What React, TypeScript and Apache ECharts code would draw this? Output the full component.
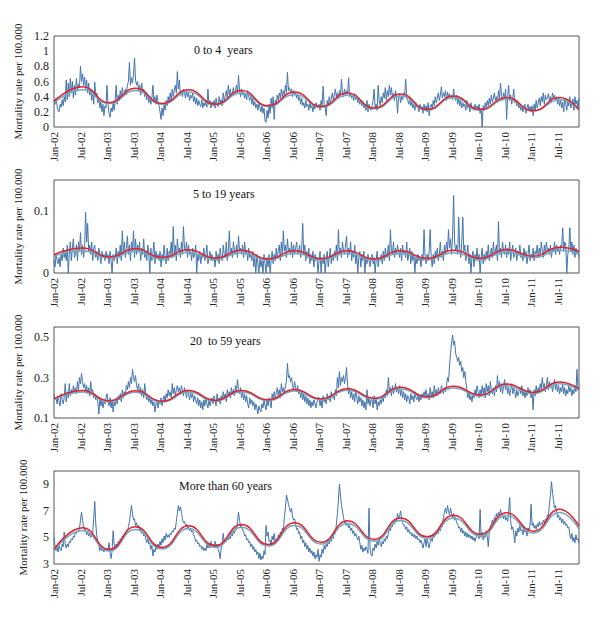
import { useEffect, useRef } from 'react';
import * as echarts from 'echarts';

const tickLabels = [
  'Jan-02', 'Jul-02', 'Jan-03', 'Jul-03', 'Jan-04', 'Jul-04', 'Jan-05', 'Jul-05', 'Jan-06', 'Jul-06',
  'Jan-07', 'Jul-07', 'Jan-08', 'Jul-08', 'Jan-09', 'Jul-09', 'Jan-10', 'Jul-10', 'Jan-11', 'Jul-11',
];
const weeksPerLabel = 26;

// Week positions of the seasonal model points (troughs ~ Jan, peaks ~ Jul)
const fitWeeks = [0, 28, 54, 80, 106, 132, 158, 184, 210, 236, 262, 288, 314, 340, 366, 392, 418, 444, 470, 496, 515];

// ---------- 0 to 4 years ----------
const p1Weekly = [
  0.35,0.30,0.38,0.28,0.22,0.20,0.30,0.26,0.36,0.28,0.40,0.33,0.62,0.36,0.58,0.40,0.64,0.45,0.60,0.38,0.55,0.42,0.64,0.48,0.56,0.52,0.80,0.60,0.70,0.55,0.66,0.50,0.62,0.45,0.58,0.42,0.50,0.35,0.48,0.30,0.59,0.40,0.45,0.32,0.38,0.25,0.33,0.20,0.30,0.15,0.28,0.25,
  0.55,0.30,0.18,0.13,0.25,0.20,0.32,0.22,0.35,0.55,0.30,0.42,0.35,0.48,0.38,0.52,0.40,0.45,0.50,0.42,0.55,0.60,0.85,0.55,0.65,0.58,0.70,0.91,0.62,0.55,0.60,0.48,0.55,0.42,0.58,0.45,0.50,0.40,0.46,0.36,0.42,0.32,0.40,0.30,0.38,0.55,0.35,0.40,0.30,0.42,0.33,0.28,
  0.20,0.10,0.25,0.15,0.30,0.22,0.35,0.28,0.40,0.32,0.45,0.35,0.50,0.40,0.48,0.55,0.45,0.73,0.50,0.62,0.42,0.48,0.40,0.50,0.45,0.38,0.48,0.40,0.45,0.35,0.42,0.38,0.45,0.33,0.40,0.30,0.38,0.28,0.35,0.30,0.27,0.36,0.25,0.32,0.28,0.34,0.26,0.50,0.30,0.35,0.25,0.33,
  0.28,0.35,0.25,0.38,0.30,0.27,0.40,0.32,0.36,0.28,0.45,0.35,0.40,0.48,0.38,0.55,0.42,0.50,0.40,0.45,0.52,0.42,0.48,0.55,0.45,0.68,0.48,0.40,0.50,0.42,0.46,0.38,0.44,0.36,0.48,0.40,0.35,0.42,0.30,0.38,0.28,0.33,0.25,0.30,0.22,0.32,0.26,0.20,0.28,0.18,0.25,0.08,
  0.06,0.22,0.12,0.30,0.18,0.38,0.25,0.40,0.10,0.35,0.30,0.42,0.35,0.45,0.38,0.50,0.40,0.48,0.42,0.55,0.45,0.72,0.48,0.52,0.45,0.50,0.40,0.48,0.42,0.46,0.38,0.44,0.35,0.40,0.30,0.38,0.28,0.32,0.25,0.35,0.27,0.30,0.22,0.32,0.25,0.28,0.20,0.30,0.24,0.32,0.28,0.25,
  0.30,0.22,0.35,0.28,0.54,0.30,0.25,0.15,0.35,0.28,0.40,0.32,0.38,0.45,0.35,0.42,0.50,0.40,0.45,0.38,0.48,0.42,0.63,0.45,0.40,0.50,0.42,0.48,0.44,0.65,0.40,0.45,0.38,0.42,0.35,0.44,0.36,0.40,0.32,0.38,0.30,0.35,0.28,0.33,0.25,0.30,0.22,0.35,0.20,0.30,0.25,0.22,
  0.28,0.35,0.50,0.25,0.30,0.22,0.55,0.35,0.28,0.40,0.32,0.45,0.38,0.52,0.35,0.48,0.40,0.55,0.42,0.52,0.38,0.45,0.35,0.48,0.40,0.18,0.38,0.44,0.32,0.40,0.36,0.45,0.42,0.63,0.38,0.35,0.30,0.38,0.28,0.33,0.25,0.30,0.22,0.32,0.26,0.28,0.20,0.30,0.24,0.27,0.18,0.30,
  0.22,0.28,0.20,0.32,0.15,0.26,0.30,0.25,0.35,0.28,0.40,0.32,0.38,0.45,0.35,0.42,0.53,0.38,0.45,0.40,0.48,0.35,0.46,0.40,0.44,0.38,0.42,0.36,0.50,0.40,0.35,0.42,0.30,0.38,0.28,0.35,0.25,0.32,0.27,0.30,0.22,0.35,0.25,0.28,0.20,0.32,0.24,0.27,0.22,0.30,0.25,0.28,
  0.22,0.30,0.18,0.25,0.00,0.28,0.22,0.32,0.26,0.35,0.28,0.38,0.30,0.42,0.33,0.38,0.45,0.35,0.40,0.32,0.48,0.38,0.58,0.40,0.35,0.45,0.38,0.50,0.10,0.40,0.55,0.35,0.42,0.30,0.38,0.50,0.32,0.35,0.28,0.32,0.25,0.30,0.22,0.28,0.20,0.26,0.30,0.18,0.25,0.30,0.22,0.27,
  0.20,0.28,0.15,0.30,0.22,0.35,0.25,0.32,0.38,0.28,0.40,0.33,0.45,0.30,0.42,0.36,0.38,0.44,0.35,0.40,0.32,0.45,0.38,0.42,0.35,0.40,0.30,0.38,0.28,0.35,0.25,0.33,0.20,0.38,0.30,0.22,0.35,0.28,0.40,0.25,0.32,0.37,0.22,0.40,0.30,0.35,0.25,0.38,
];
const p1Model = [0.34, 0.53, 0.32, 0.51, 0.31, 0.49, 0.30, 0.48, 0.28, 0.46, 0.27, 0.45, 0.25, 0.435, 0.23, 0.41, 0.23, 0.39, 0.215, 0.39, 0.23];
const p1Fit = [0.32, 0.49, 0.31, 0.48, 0.30, 0.46, 0.29, 0.45, 0.27, 0.43, 0.26, 0.42, 0.24, 0.41, 0.22, 0.39, 0.22, 0.37, 0.21, 0.36, 0.22];
const p1YLabels = [0, 0.2, 0.4, 0.6, 0.8, 1, 1.2];

// ---------- 5 to 19 years ----------
const p2Weekly = [
  0.02,0.01,0.03,0.02,0.015,0.025,0.01,0.03,0.02,0.04,0.025,0.035,0.02,0.045,0.0,0.03,0.05,0.02,0.04,0.055,0.025,0.03,0.045,0.02,0.05,0.035,0.065,0.03,0.045,0.025,0.04,0.098,0.05,0.08,0.035,0.045,0.03,0.05,0.02,0.04,0.045,0.025,0.035,0.02,0.04,0.03,0.015,0.035,0.025,0.03,0.02,0.035,
  0.025,0.03,0.015,0.035,0.02,0.0,0.03,0.02,0.025,0.04,0.015,0.035,0.025,0.045,0.02,0.068,0.03,0.05,0.025,0.04,0.06,0.03,0.045,0.02,0.05,0.035,0.068,0.025,0.055,0.03,0.045,0.035,0.05,0.02,0.04,0.03,0.055,0.025,0.035,0.02,0.045,0.03,0.0,0.04,0.02,0.03,0.05,0.015,0.035,0.025,0.03,0.02,
  0.035,0.01,0.03,0.02,0.045,0.025,0.015,0.04,0.02,0.035,0.03,0.05,0.025,0.075,0.03,0.045,0.02,0.055,0.035,0.04,0.025,0.05,0.03,0.075,0.04,0.035,0.05,0.025,0.045,0.03,0.035,0.02,0.04,0.025,0.03,0.045,0.0,0.03,0.02,0.035,0.015,0.03,0.025,0.04,0.02,0.03,0.045,0.015,0.025,0.035,0.02,0.03,
  0.02,0.025,0.01,0.035,0.02,0.03,0.015,0.04,0.025,0.02,0.045,0.03,0.025,0.05,0.02,0.035,0.068,0.03,0.04,0.025,0.05,0.035,0.03,0.045,0.025,0.06,0.035,0.04,0.03,0.045,0.025,0.05,0.03,0.035,0.02,0.04,0.025,0.03,0.02,0.035,0.01,0.025,0.0,0.03,0.015,0.0,0.025,0.01,0.02,0.0,0.03,0.015,
  0.0,0.025,0.01,0.03,0.0,0.02,0.035,0.015,0.03,0.02,0.04,0.025,0.035,0.045,0.02,0.05,0.03,0.068,0.035,0.045,0.025,0.055,0.035,0.04,0.03,0.05,0.025,0.045,0.03,0.04,0.05,0.03,0.035,0.045,0.025,0.04,0.08,0.03,0.045,0.02,0.035,0.025,0.04,0.015,0.03,0.02,0.035,0.01,0.03,0.02,0.025,0.0,
  0.02,0.035,0.0,0.025,0.015,0.03,0.0,0.02,0.035,0.01,0.025,0.04,0.015,0.03,0.02,0.035,0.025,0.045,0.02,0.07,0.03,0.04,0.025,0.05,0.035,0.03,0.045,0.06,0.025,0.04,0.03,0.05,0.02,0.035,0.025,0.045,0.015,0.03,0.0,0.025,0.035,0.01,0.03,0.02,0.035,0.0,0.025,0.015,0.03,0.02,0.01,0.025,
  0.03,0.015,0.025,0.0,0.02,0.035,0.01,0.025,0.02,0.03,0.015,0.035,0.02,0.04,0.025,0.03,0.045,0.02,0.07,0.035,0.03,0.05,0.025,0.04,0.03,0.045,0.035,0.025,0.04,0.02,0.045,0.03,0.035,0.025,0.05,0.02,0.03,0.04,0.015,0.035,0.02,0.03,0.0,0.025,0.015,0.03,0.02,0.025,0.01,0.03,0.02,0.07,
  0.025,0.015,0.03,0.02,0.035,0.07,0.025,0.01,0.03,0.015,0.035,0.025,0.04,0.02,0.03,0.05,0.025,0.035,0.02,0.045,0.03,0.05,0.035,0.07,0.04,0.055,0.03,0.06,0.125,0.05,0.035,0.045,0.03,0.09,0.04,0.025,0.05,0.09,0.035,0.045,0.02,0.03,0.045,0.015,0.03,0.0,0.025,0.035,0.01,0.03,0.02,0.04,
  0.02,0.03,0.0,0.025,0.04,0.015,0.03,0.02,0.035,0.025,0.045,0.02,0.03,0.04,0.025,0.05,0.03,0.035,0.045,0.02,0.083,0.03,0.04,0.025,0.05,0.035,0.03,0.045,0.025,0.04,0.03,0.05,0.02,0.035,0.045,0.025,0.03,0.04,0.02,0.035,0.03,0.045,0.025,0.03,0.02,0.04,0.025,0.035,0.015,0.03,0.045,0.02,
  0.03,0.025,0.04,0.02,0.035,0.03,0.045,0.025,0.04,0.03,0.05,0.035,0.025,0.045,0.03,0.05,0.035,0.04,0.03,0.045,0.025,0.04,0.035,0.05,0.03,0.045,0.035,0.04,0.03,0.045,0.04,0.073,0.035,0.05,0.045,0.0,0.03,0.04,0.073,0.035,0.05,0.03,0.045,0.025,0.04,0.03,0.035,0.025,
];
const p2Model = [0.0295, 0.0405, 0.0257, 0.039, 0.025, 0.0375, 0.024, 0.0365, 0.0225, 0.036, 0.023, 0.036, 0.0225, 0.036, 0.0235, 0.0366, 0.0238, 0.038, 0.027, 0.0415, 0.035];
const p2Fit = [0.027, 0.036, 0.024, 0.035, 0.023, 0.0335, 0.022, 0.0325, 0.021, 0.032, 0.021, 0.032, 0.0205, 0.032, 0.0215, 0.0325, 0.0218, 0.0335, 0.0245, 0.0365, 0.031];
const p2YLabels = [0, 0.1];

// ---------- 20 to 59 years ----------
const p3Weekly = [
  0.22,0.19,0.20,0.17,0.21,0.18,0.16,0.22,0.19,0.17,0.20,0.27,0.18,0.23,0.20,0.27,0.21,0.24,0.22,0.26,0.23,0.25,0.22,0.28,0.24,0.30,0.27,0.32,0.28,0.25,0.27,0.23,0.26,0.22,0.25,0.21,0.28,0.23,0.24,0.20,0.22,0.19,0.21,0.18,0.12,0.20,0.16,0.19,0.15,0.18,0.17,0.20,
  0.22,0.18,0.16,0.20,0.15,0.19,0.13,0.18,0.16,0.20,0.17,0.21,0.19,0.22,0.18,0.24,0.20,0.23,0.21,0.26,0.24,0.28,0.25,0.30,0.27,0.34,0.30,0.28,0.31,0.26,0.24,0.27,0.22,0.25,0.21,0.24,0.20,0.27,0.22,0.19,0.21,0.18,0.20,0.17,0.19,0.16,0.18,0.13,0.17,0.19,0.15,0.18,
  0.17,0.20,0.16,0.19,0.21,0.18,0.22,0.20,0.24,0.21,0.23,0.20,0.27,0.22,0.25,0.21,0.24,0.26,0.23,0.25,0.22,0.26,0.24,0.21,0.25,0.23,0.20,0.24,0.22,0.19,0.23,0.20,0.22,0.18,0.21,0.19,0.17,0.20,0.16,0.19,0.15,0.18,0.14,0.19,0.16,0.20,0.17,0.15,0.19,0.16,0.18,0.20,
  0.17,0.21,0.19,0.16,0.22,0.18,0.20,0.17,0.21,0.19,0.23,0.20,0.22,0.18,0.24,0.21,0.23,0.20,0.25,0.22,0.24,0.21,0.26,0.23,0.29,0.24,0.22,0.25,0.20,0.23,0.19,0.22,0.18,0.21,0.17,0.15,0.20,0.17,0.19,0.16,0.18,0.14,0.17,0.15,0.12,0.16,0.14,0.13,0.17,0.15,0.19,0.16,
  0.14,0.19,0.16,0.20,0.18,0.15,0.22,0.19,0.23,0.20,0.22,0.25,0.21,0.24,0.20,0.27,0.23,0.25,0.22,0.26,0.28,0.37,0.30,0.31,0.28,0.30,0.26,0.24,0.28,0.25,0.23,0.26,0.22,0.24,0.20,0.23,0.19,0.22,0.18,0.21,0.17,0.20,0.16,0.19,0.15,0.18,0.16,0.19,0.17,0.15,0.18,0.20,
  0.20,0.16,0.19,0.15,0.21,0.18,0.20,0.17,0.22,0.19,0.21,0.18,0.23,0.20,0.22,0.19,0.24,0.21,0.30,0.25,0.33,0.26,0.30,0.28,0.31,0.27,0.30,0.35,0.26,0.22,0.25,0.20,0.23,0.19,0.22,0.18,0.24,0.20,0.17,0.21,0.18,0.20,0.16,0.19,0.15,0.18,0.14,0.24,0.17,0.20,0.16,0.19,
  0.19,0.15,0.21,0.17,0.20,0.14,0.18,0.16,0.19,0.17,0.21,0.18,0.22,0.20,0.24,0.21,0.30,0.23,0.25,0.21,0.26,0.22,0.24,0.27,0.23,0.25,0.22,0.26,0.21,0.24,0.20,0.23,0.19,0.22,0.18,0.21,0.20,0.17,0.22,0.19,0.21,0.18,0.23,0.20,0.19,0.22,0.18,0.21,0.19,0.22,0.20,0.23,
  0.21,0.24,0.20,0.22,0.19,0.25,0.21,0.23,0.20,0.26,0.22,0.24,0.21,0.25,0.23,0.22,0.26,0.24,0.22,0.25,0.23,0.26,0.30,0.28,0.36,0.42,0.47,0.51,0.46,0.48,0.42,0.40,0.38,0.40,0.36,0.38,0.33,0.35,0.30,0.33,0.28,0.24,0.20,0.23,0.19,0.21,0.18,0.22,0.20,0.24,0.21,0.26,
  0.23,0.20,0.24,0.21,0.26,0.22,0.25,0.20,0.27,0.23,0.26,0.21,0.28,0.24,0.22,0.25,0.21,0.26,0.23,0.31,0.25,0.28,0.23,0.27,0.22,0.26,0.29,0.24,0.27,0.22,0.25,0.21,0.24,0.27,0.22,0.25,0.23,0.20,0.24,0.21,0.23,0.25,0.22,0.26,0.21,0.24,0.20,0.23,0.21,0.25,0.22,0.24,
  0.20,0.23,0.14,0.24,0.21,0.26,0.22,0.25,0.23,0.27,0.24,0.30,0.25,0.27,0.23,0.26,0.30,0.24,0.28,0.25,0.27,0.23,0.26,0.29,0.24,0.27,0.23,0.26,0.22,0.25,0.23,0.27,0.22,0.25,0.21,0.24,0.22,0.26,0.23,0.25,0.21,0.24,0.22,0.26,0.23,0.34,0.24,0.25,
];
const p3Model = [0.195, 0.2365, 0.185, 0.235, 0.183, 0.236, 0.187, 0.236, 0.19, 0.2415, 0.195, 0.245, 0.198, 0.2515, 0.205, 0.2565, 0.2135, 0.268, 0.2265, 0.2785, 0.2435];
const p3Fit = [0.19, 0.228, 0.181, 0.227, 0.179, 0.228, 0.183, 0.228, 0.186, 0.233, 0.19, 0.237, 0.193, 0.243, 0.2, 0.248, 0.208, 0.259, 0.221, 0.269, 0.236];
const p3YLabels = [0.1, 0.3, 0.5];

// ---------- More than 60 years ----------
const p4Weekly = [
  5.0,4.4,4.0,4.3,3.9,4.4,4.1,4.0,4.5,4.3,5.4,4.5,4.2,4.5,4.3,4.7,4.6,4.9,4.8,5.1,5.0,5.4,5.3,5.5,5.4,5.7,6.3,6.9,6.3,5.8,5.5,5.6,5.2,5.4,5.1,5.3,5.0,5.2,5.4,6.5,7.7,6.0,5.1,4.7,4.4,4.0,4.3,4.0,4.1,3.9,4.2,4.0,
  4.2,4.0,4.6,3.8,3.4,4.0,5.5,4.5,4.2,4.5,4.3,4.7,4.5,4.9,4.7,5.1,4.9,5.3,5.2,5.5,5.5,5.8,6.2,6.8,7.4,6.8,6.3,6.4,5.9,6.1,5.7,5.9,5.5,5.7,5.3,5.5,5.1,5.3,4.9,4.6,4.9,4.5,4.6,4.1,4.4,3.6,4.1,3.9,4.3,4.1,4.5,4.3,
  4.7,4.4,4.9,4.6,5.1,4.8,5.3,5.0,5.2,5.0,5.3,5.2,5.5,5.4,5.7,5.6,6.2,6.8,7.4,7.0,7.3,6.9,6.4,6.1,6.2,5.9,6.0,5.7,5.8,5.5,5.7,5.4,5.5,5.2,5.0,4.7,4.8,4.5,4.6,4.3,4.4,4.1,4.3,4.0,4.2,4.0,4.5,4.2,4.5,4.2,4.7,4.4,
  4.5,4.2,4.7,4.3,4.5,4.1,3.9,3.4,4.2,4.5,5.3,4.6,4.9,4.7,5.0,4.8,5.1,4.9,5.3,5.1,5.5,5.3,5.7,5.6,6.2,6.9,6.3,5.8,5.9,5.5,5.5,5.1,5.2,4.8,4.9,4.6,4.7,4.3,4.5,4.1,4.3,3.9,4.1,3.7,3.9,3.4,3.8,3.3,3.6,3.4,4.0,3.7,
  5.9,5.1,5.4,4.7,4.8,4.4,5.1,4.8,5.3,4.6,4.9,4.7,5.2,4.9,5.4,5.2,5.7,5.5,6.5,7.2,8.2,7.9,7.5,7.2,6.9,7.2,6.6,6.3,6.4,6.0,5.6,5.7,5.3,5.4,4.9,5.1,4.6,4.8,4.3,4.6,4.1,4.4,3.9,4.2,3.8,4.0,3.6,3.9,3.4,3.7,3.5,4.1,
  3.2,3.7,3.5,4.1,3.8,4.4,4.1,4.5,4.3,4.8,4.5,4.9,4.7,5.2,4.9,5.5,5.3,6.0,6.8,7.8,9.0,8.2,7.4,7.0,6.5,6.1,6.2,5.9,6.1,5.7,5.9,5.5,5.7,5.3,5.5,5.1,5.3,5.0,4.8,5.1,4.6,4.1,4.4,3.9,4.2,4.0,4.3,4.1,3.8,7.2,4.2,3.7,
  3.6,4.2,4.0,4.5,4.2,4.7,4.4,4.9,4.6,4.3,4.7,4.5,4.9,4.7,5.1,4.9,5.3,5.7,5.5,5.9,5.8,6.2,6.0,6.4,6.2,6.8,6.4,6.6,7.0,6.4,6.1,5.9,5.9,5.6,5.8,5.4,5.6,5.3,5.4,5.1,5.3,5.0,5.2,4.9,5.1,4.8,4.9,4.6,4.8,4.5,4.2,4.6,
  4.9,4.3,4.9,4.5,4.2,4.7,4.9,4.7,5.2,5.0,5.4,5.2,5.5,5.3,5.7,5.5,5.9,5.8,6.5,6.9,7.2,6.8,7.4,7.0,6.7,7.2,6.8,6.5,6.8,6.3,6.5,6.1,6.0,5.7,5.8,5.4,5.7,5.3,5.5,5.1,5.4,5.0,5.3,5.0,5.2,4.9,5.1,4.8,5.0,4.7,5.0,5.3,
  5.2,4.9,7.1,5.0,5.4,4.8,5.2,5.0,5.5,5.1,4.3,5.4,5.8,6.0,6.3,6.0,6.5,6.3,6.8,6.5,6.9,6.6,7.1,6.7,6.8,6.4,6.7,6.3,6.5,6.2,6.9,8.0,6.2,5.6,5.8,5.3,4.6,5.5,5.1,5.7,5.4,5.9,5.5,5.6,5.2,5.8,5.4,5.5,5.1,5.7,5.5,5.9,
  7.5,5.9,6.1,5.7,5.9,5.6,6.0,5.8,6.2,5.9,6.1,6.0,6.3,6.1,6.4,6.3,6.7,6.6,7.5,8.2,9.2,8.4,7.8,7.2,7.4,6.9,6.5,6.7,6.3,6.5,6.1,6.4,6.0,6.2,5.9,6.0,5.7,5.8,5.2,4.9,5.3,4.7,5.0,4.6,5.2,4.8,4.9,4.6,
];
const p4Model = [4.1, 5.72, 4.1, 5.8, 4.25, 5.87, 4.37, 5.97, 4.47, 6.1, 4.63, 6.25, 4.85, 6.47, 5.05, 6.67, 5.23, 6.85, 5.47, 7.12, 5.85];
const p4Fit = [3.98, 5.52, 3.98, 5.6, 4.13, 5.67, 4.25, 5.77, 4.35, 5.9, 4.5, 6.05, 4.72, 6.27, 4.92, 6.47, 5.1, 6.65, 5.33, 6.88, 5.62];
const p4YLabels = [3, 5, 7, 9];

const SERIF = '"Liberation Serif", "Times New Roman", serif';

const panels = [
  { title: '0 to 4  years', weekly: p1Weekly, model: p1Model, fit: p1Fit, yLabels: p1YLabels, min: 0, max: 1.2, interval: 0.2 },
  { title: '5 to 19 years', weekly: p2Weekly, model: p2Model, fit: p2Fit, yLabels: p2YLabels, min: 0, max: 0.15, interval: 0.05 },
  { title: '20  to 59 years', weekly: p3Weekly, model: p3Model, fit: p3Fit, yLabels: p3YLabels, min: 0.1, max: 0.55, interval: 0.1 },
  { title: 'More than 60 years', weekly: p4Weekly, model: p4Model, fit: p4Fit, yLabels: p4YLabels, min: 3, max: 10, interval: 1 },
];

const layout = [
  { top: 36, height: 91, titleX: 194, titleY: 44 },
  { top: 180, height: 93, titleX: 193, titleY: 188 },
  { top: 327, height: 91, titleX: 190, titleY: 335 },
  { top: 471, height: 93, titleX: 179, titleY: 480 },
];

export default function App() {
  const ref = useRef<HTMLDivElement>(null);
  useEffect(() => {
    if (!ref.current) return;
    const chart = echarts.init(ref.current, null, { renderer: 'svg' });
    const grid: any[] = [];
    const xAxis: any[] = [];
    const yAxis: any[] = [];
    const series: any[] = [];
    const graphic: any[] = [];
    const maxWeek = p1Weekly.length - 1;
    panels.forEach((p, k) => {
      const L = layout[k];
      grid.push({
        left: 54, width: 525, top: L.top, height: L.height,
        show: true, borderColor: '#555', borderWidth: 1, backgroundColor: 'transparent',
      });
      xAxis.push({
        type: 'value', gridIndex: k, min: 0, max: maxWeek, interval: weeksPerLabel,
        axisLine: { show: false }, axisTick: { show: false }, splitLine: { show: false },
        axisLabel: {
          rotate: 90, margin: 5, fontFamily: SERIF, fontSize: 11, color: '#222',
          showMinLabel: true, showMaxLabel: false,
          formatter: (v: number) => (v % weeksPerLabel === 0 ? tickLabels[v / weeksPerLabel] ?? '' : ''),
        },
      });
      yAxis.push({
        type: 'value', gridIndex: k, min: p.min, max: p.max, interval: p.interval,
        name: 'Mortality rate per 100.000', nameLocation: 'middle', nameGap: 26,
        nameTextStyle: { fontFamily: SERIF, fontSize: 11, color: '#222' },
        axisLine: { show: false }, axisTick: { show: false }, splitLine: { show: false },
        axisLabel: {
          margin: 5, fontFamily: SERIF, fontSize: 12, color: '#222',
          formatter: (v: number) => {
            const hit = p.yLabels.find((l) => Math.abs(l - v) < 1e-6);
            return hit === undefined ? '' : String(hit);
          },
        },
      });
      series.push({
        type: 'line', xAxisIndex: k, yAxisIndex: k, symbol: 'none',
        data: p.weekly.map((v, i) => [i, v]),
        lineStyle: { color: '#4274ad', width: 1 }, z: 2,
      });
      series.push({
        type: 'line', xAxisIndex: k, yAxisIndex: k, symbol: 'none', smooth: 0.5,
        data: p.fit.map((v, i) => [fitWeeks[i], v]),
        lineStyle: { color: '#72a8c4', width: 1.5 }, z: 3,
      });
      series.push({
        type: 'line', xAxisIndex: k, yAxisIndex: k, symbol: 'none', smooth: 0.5,
        data: p.model.map((v, i) => [fitWeeks[i], v]),
        lineStyle: { color: '#e3202b', width: 1.5 }, z: 4,
      });
      graphic.push({
        type: 'text', left: L.titleX, top: L.titleY,
        style: { text: p.title, font: `12px ${SERIF}`, fill: '#111' },
      });
    });
    chart.setOption({
      animation: false,
      backgroundColor: '#fff',
      grid, xAxis, yAxis, series, graphic,
    });
    return () => chart.dispose();
  }, []);
  return <div ref={ref} style={{ position: 'fixed', left: 0, top: 0, width: 600, height: 617 }} />;
}
